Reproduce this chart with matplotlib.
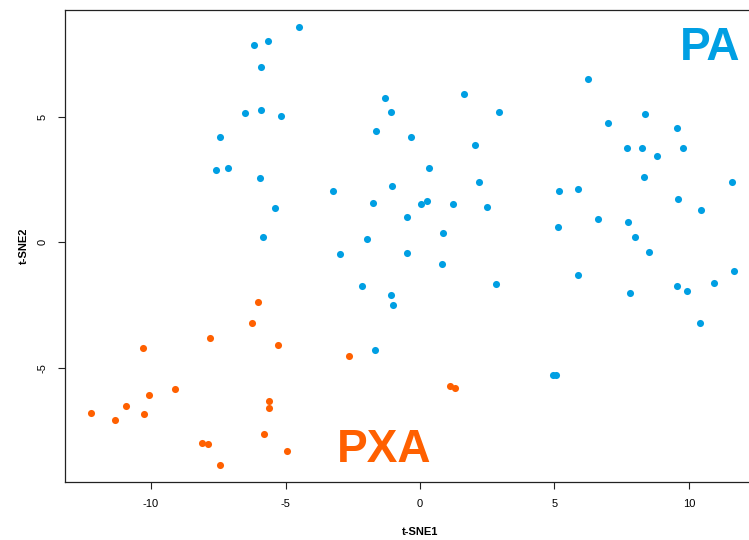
import matplotlib
matplotlib.use("Agg")
import matplotlib.pyplot as plt

plt.rcParams['font.family'] = ['Liberation Sans', 'DejaVu Sans']

pa_x = [-4.50, -6.16, -5.65, -5.90, -6.52, -5.90, -5.17, -7.45, -1.65, -7.57,
        -7.14, -5.94, -3.25, -1.76, -5.40, -5.85, -1.96, -2.97, -1.31, -1.07,
        1.65, 2.94, -0.32, 2.04, 0.33, -1.05, 2.20, 0.05, 0.27, 1.22,
        2.48, -0.47, 0.87, -0.49, 0.82, 6.23, 6.98, 8.35, 9.57, 7.70,
        8.26, 8.82, 9.77, 8.34, 11.59, 5.17, 5.86, 9.59, 10.43, 5.14,
        6.61, 7.74, 7.98, 8.52, 11.67, -1.08, -0.99, 2.81, 5.86, 7.82,
        9.54, 9.91, 10.92, 10.42, -1.68, 4.94, 5.04, -2.17]
pa_y = [8.59, 7.86, 8.04, 7.00, 5.17, 5.27, 5.03, 4.21, 4.45, 2.88,
        2.95, 2.58, 2.06, 1.57, 1.38, 0.22, 0.14, -0.47, 5.77, 5.21,
        5.93, 5.21, 4.19, 3.87, 2.98, 2.25, 2.39, 1.53, 1.64, 1.52,
        1.40, 1.02, 0.36, -0.41, -0.87, 6.50, 4.77, 5.11, 4.56, 3.77,
        3.75, 3.45, 3.76, 2.59, 2.39, 2.05, 2.13, 1.74, 1.29, 0.61,
        0.92, 0.81, 0.20, -0.37, -1.14, -2.09, -2.51, -1.68, -1.32, -2.02,
        -1.73, -1.95, -1.61, -3.21, -4.31, -5.31, -5.31, -1.73]

pxa_x = [-6.01, -6.25, -7.81, -5.29, -10.29, -2.64, -9.12, -10.06, -10.93, -12.24,
         -11.35, -10.27, -5.62, -5.62, -5.80, -8.09, -7.89, -7.45, -4.96, 1.13, 1.30]
pxa_y = [-2.37, -3.21, -3.82, -4.11, -4.22, -4.55, -5.86, -6.10, -6.54, -6.82,
         -7.09, -6.84, -6.33, -6.61, -7.63, -7.99, -8.05, -8.88, -8.32, -5.74, -5.82]

x_ticks = [-10, -5, 0, 5, 10]
y_ticks = [-5, 0, 5]

blue = '#009FE3'
orange = '#FF6000'

W, H = 749, 540
fig = plt.figure(figsize=(W / 100, H / 100), dpi=100)
left, right, top, bottom = 65, 775, 9.5, 482.3
ax = fig.add_axes([left / W, (H - bottom) / H, (right - left) / W, (bottom - top) / H])

ax.scatter(pa_x, pa_y, s=26, color=blue, linewidths=0, zorder=3)
ax.scatter(pxa_x, pxa_y, s=26, color=orange, linewidths=0, zorder=3)

ax.set_xlim(-13.2, 13.2)
ax.set_ylim(-9.573, 9.286)
ax.set_xticks(x_ticks)
ax.set_yticks(y_ticks)
ax.set_xticklabels([str(v) for v in x_ticks])
ax.set_yticklabels([str(v) for v in y_ticks], rotation=90, va='center')
ax.tick_params(axis='both', length=4.8, width=0.8, pad=7.5, labelsize=8, color='#222222')
for sp in ax.spines.values():
    sp.set_linewidth(0.9)
    sp.set_color('#222222')

fig.text(710.5 / W, 1 - 60 / H, 'PA', color=blue, fontsize=33,
         fontweight='bold', ha='center', va='baseline')
fig.text(384 / W, 1 - 461.7 / H, 'PXA', color=orange, fontsize=33,
         fontweight='bold', ha='center', va='baseline')

fig.text(420 / W, 1 - 532 / H, 't-SNE1', fontsize=8, fontweight='bold', ha='center', va='center')
fig.text(24 / W, 1 - 246 / H, 't-SNE2', fontsize=8, fontweight='bold', ha='center', va='center',
         rotation=90)

fig.savefig('out.png', dpi=100)
